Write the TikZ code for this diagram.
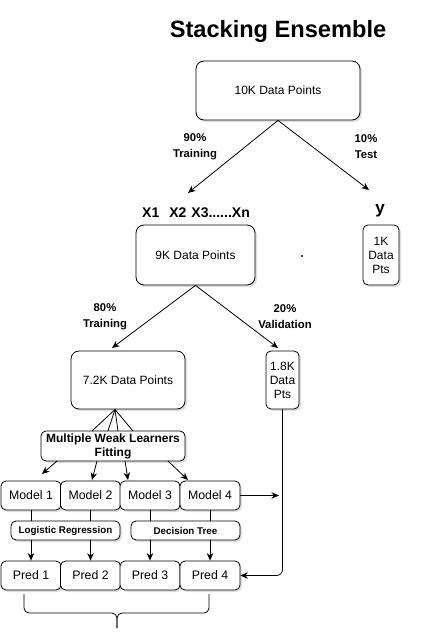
\documentclass[tikz,border=0pt]{standalone}
\usepackage{fontspec}
\setmainfont{Liberation Sans}
\usetikzlibrary{arrows.meta,shadows}
\begin{document}
\begin{tikzpicture}[x=1pt,y=-1pt,
  shd/.style={drop shadow={shadow xshift=2pt,shadow yshift=-2pt,opacity=0.25}},
  bigbox/.style={draw,line width=0.8pt,rounded corners=8pt,fill=white,shd,inner sep=0pt,font=\fontsize{12}{14}\selectfont,align=center},
  smallbox/.style={draw,line width=0.8pt,rounded corners=5pt,fill=white,shd,inner sep=0pt,align=center},
  lbl/.style={font=\bfseries\fontsize{11.3}{15.5}\selectfont,align=center},
  conn/.style={line width=0.8pt},
  arr/.style={line width=0.8pt,-{Stealth[length=7.5pt,width=6.5pt]}}]
\useasboundingbox (0,0) rectangle (435,643);
% title
\node[font=\bfseries\fontsize{23.6}{27}\selectfont] (title) at (278,31) {Stacking Ensemble};
% top box
\node[bigbox,minimum width=164pt,minimum height=59pt] (d10k) at (278,90.5) {10K Data Points};
\coordinate (t9k) at (188,193);
\coordinate (t1k) at (369,190);
\draw[arr] (d10k.south) -- (t9k);
\draw[arr] (d10k.south) -- (t1k);
\node[lbl] (l90) at (195,146.5) {90\%\\Training};
\node[lbl] (l10) at (366,146.5) {10\%\\Test};
% features / target
\node[font=\bfseries\fontsize{14}{16}\selectfont] (xs) at (196,213) {X1\hspace{10pt}X2\hspace{5pt}X3......Xn};
\node[font=\bfseries\fontsize{17}{19}\selectfont] (ylab) at (380,211) {y};
% second row
\node[bigbox,minimum width=119pt,minimum height=60pt] (d9k) at (195.5,255) {9K Data Points};
\fill (302,256) circle (1.2pt);
\node[smallbox,minimum width=36pt,minimum height=60pt,font=\fontsize{12}{14}\selectfont] (d1k) at (381,255) {1K\\Data\\Pts};
\coordinate (t72) at (112,348);
\coordinate (t18) at (278,348);
\draw[arr] (d9k.south) -- (t72);
\draw[arr] (d9k.south) -- (t18);
\node[lbl] (l80) at (105,316.5) {80\%\\Training};
\node[lbl] (l20) at (285,316.5) {20\%\\Validation};
% third row
\node[bigbox,minimum width=114pt,minimum height=58pt] (d72) at (128,380) {7.2K Data Points};
\node[smallbox,minimum width=33pt,minimum height=58pt,font=\fontsize{12}{14}\selectfont] (d18) at (282.5,380) {1.8K\\Data\\Pts};
% weak learners
\coordinate (fan) at (115,409.5);
\node[smallbox,minimum width=144pt,minimum height=30pt,font=\bfseries\fontsize{12}{14}\selectfont] (mwl) at (113,446) {Multiple Weak Learners\\Fitting};
\draw[conn] (fan) -- (92,431);
\draw[conn] (fan) -- (108,431);
\draw[conn] (fan) -- (118,431);
\draw[conn] (fan) -- (133,431);
% models
\foreach \i/\x in {1/31,2/90.5,3/150,4/210}{
  \node[smallbox,minimum width=60pt,minimum height=29pt,font=\fontsize{12.3}{14}\selectfont] (m\i) at (\x,495.5) {Model \i};
}
\coordinate (a1) at (42,474);
\coordinate (a2) at (92,480);
\coordinate (a3) at (128,480);
\coordinate (a4) at (188,480);
\draw[arr] (57,461) -- (a1);
\draw[arr] (97,461) -- (a2);
\draw[arr] (125,461) -- (a3);
\draw[arr] (168,461) -- (a4);
\coordinate (mv) at (279,495.5);
\draw[arr] (m4.east) -- (mv);
% algorithms
\node[smallbox,minimum width=109pt,minimum height=19pt,font=\bfseries\fontsize{9.8}{11}\selectfont] (lr) at (65.5,530.5) {Logistic Regression};
\node[smallbox,minimum width=109pt,minimum height=19pt,font=\bfseries\fontsize{9.8}{11}\selectfont] (dt) at (185.5,530.5) {Decision Tree};
% predictions
\foreach \i/\x in {1/31,2/90.5,3/150,4/210}{
  \node[smallbox,minimum width=60pt,minimum height=29pt,font=\fontsize{12.3}{14}\selectfont] (p\i) at (\x,575.5) {Pred \i};
}
\draw[conn] (m1.south) -- (m1.south |- lr.north);
\draw[conn] (m2.south) -- (m2.south |- lr.north);
\draw[conn] (m3.south) -- (m3.south |- dt.north);
\draw[conn] (m4.south) -- (m4.south |- dt.north);
\draw[arr] (p1.north |- lr.south) -- (p1.north);
\draw[arr] (p2.north |- lr.south) -- (p2.north);
\draw[arr] (p3.north |- dt.south) -- (p3.north);
\draw[arr] (p4.north |- dt.south) -- (p4.north);
% validation path
\draw[arr,rounded corners=6pt] (d18.south) -- (d18.south |- p4.east) -- (p4.east);
% brace
\draw[conn,rounded corners=5pt] (24,594) -- (24,613) -- (117,613) -- (117,628);
\draw[conn,rounded corners=5pt] (209,594) -- (209,613) -- (117,613) -- (117,628);
\end{tikzpicture}
\end{document}
